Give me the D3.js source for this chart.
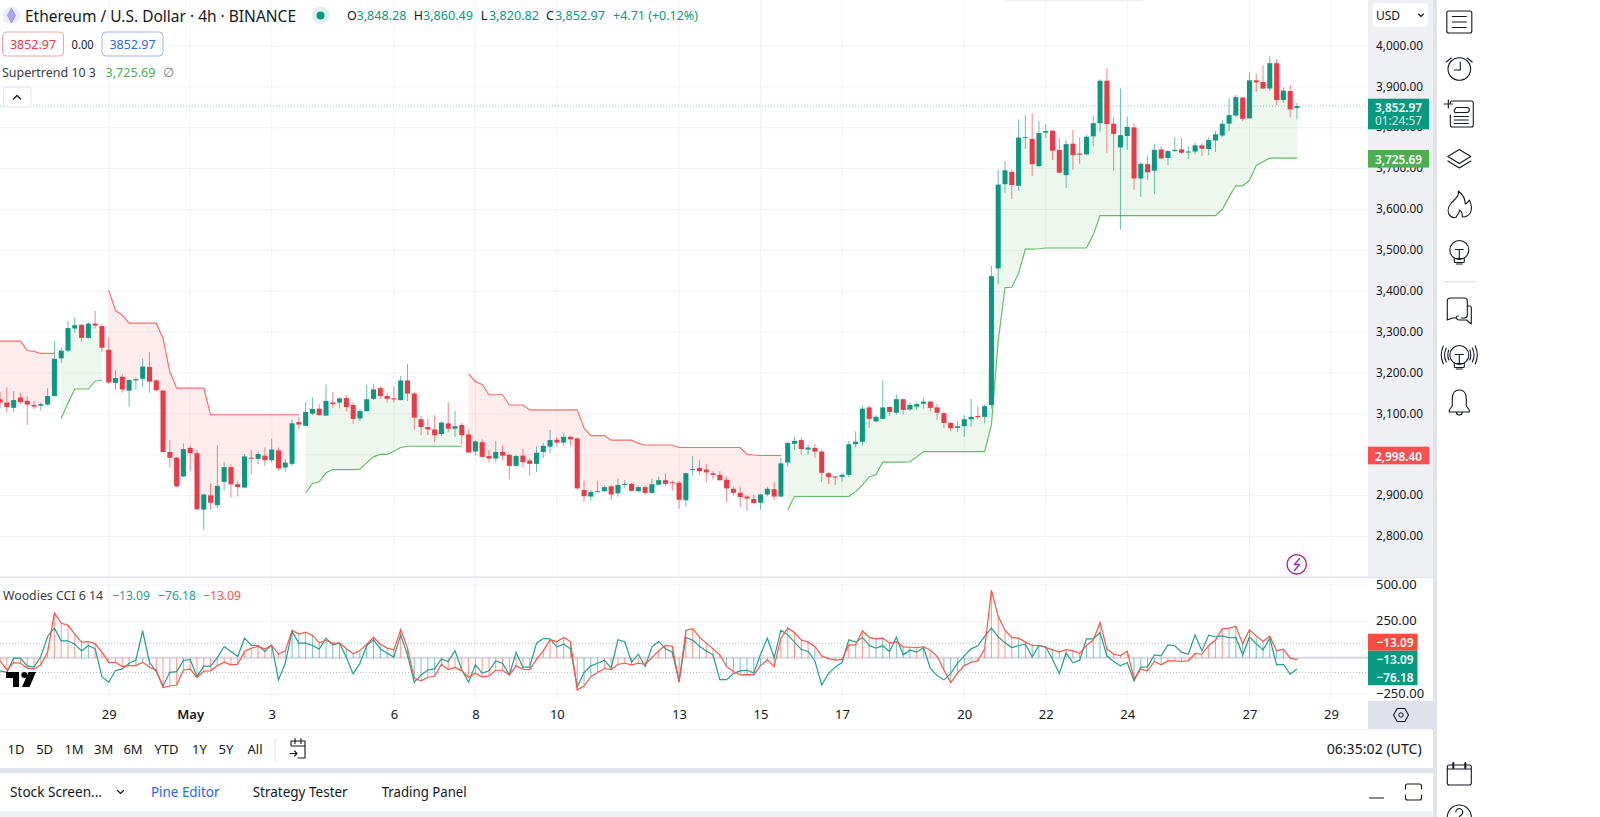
<!DOCTYPE html>
<html>
<head>
<meta charset="utf-8">
<title>ETHUSD</title>
<script src="https://cdn.jsdelivr.net/npm/d3@7/dist/d3.min.js"></script>
<style>
html,body{margin:0;padding:0;background:#fff;overflow:hidden}
svg{display:block}
text{font-family:"Noto Sans","Open Sans",sans-serif}
</style>
</head>
<body>
<script>
// ---- data ----
const firstBar = -28; // bars counted from 1 May 00:00, one bar = 4h
const opens = [
3136,3128,3115,3140,3132,3122,3120,3123,3144,3236,
3255,3309,3318,3286,3321,3315,3257,3176,3191,3157,
3182,3186,3215,3182,3157,3007,2993,2947,3017,3004,
2866,2901,2877,2934,2970,2928,2920,2993,2990,2998,
2987,3011,2969,2978,3080,3071,3101,3113,3096,3128,
3128,3139,3122,3089,3107,3137,3163,3144,3138,3134,
3182,3150,3087,3068,3062,3051,3077,3064,3073,3050,
3008,3031,2997,2991,3007,3000,2973,2998,2986,2978,
3007,3020,3037,3030,3044,3040,2914,2898,2909,2911,
2923,2906,2927,2929,2911,2921,2907,2927,2938,2933,
2932,2889,2963,2968,2964,2955,2951,2939,2917,2907,
2898,2892,2883,2903,2916,2898,2981,3027,3036,3013,
3017,3008,2955,2947,2946,2951,3026,3032,3116,3082,
3088,3117,3103,3136,3111,3118,3125,3130,3116,3102,
3078,3066,3070,3087,3095,3093,3122,3456,3662,3692,
3658,3775,3773,3706,3788,3793,3746,3684,3761,3737,
3735,3779,3811,3915,3810,3752,3780,3801,3676,3711,
3695,3747,3726,3743,3747,3741,3742,3757,3748,3769,
3781,3810,3830,3874,3823,3916,3912,3896,3958,3868,
3890,3848.28];
const highs = [
3154,3165,3156,3152,3144,3132,3128,3163,3279,3262,
3327,3336,3320,3324,3352,3320,3287,3207,3197,3185,
3189,3235,3252,3185,3160,3036,2995,3028,3022,3012,
2905,2930,3023,2982,2977,2937,3002,3012,3008,3018,
3039,3018,2990,3087,3092,3129,3141,3124,3172,3154,
3141,3146,3128,3112,3171,3174,3168,3150,3168,3193,
3222,3155,3095,3089,3097,3081,3129,3107,3078,3062,
3036,3038,3012,3034,3023,3002,3000,3014,2991,3020,
3028,3061,3044,3053,3047,3043,2937,2914,2937,2925,
2926,2942,2938,2932,2925,2925,2942,2947,2955,2937,
2935,2956,2997,2987,2978,2960,2960,2947,2922,2923,
2902,2902,2903,2922,2933,2993,3031,3044,3043,3026,
3027,3012,2958,2949,2956,3034,3058,3120,3121,3097,
3181,3119,3147,3137,3128,3128,3138,3132,3124,3106,
3081,3083,3097,3137,3118,3123,3462,3697,3718,3698,
3820,3831,3835,3817,3809,3794,3774,3770,3795,3777,
3782,3830,3919,3946,3826,3896,3827,3811,3715,3732,
3761,3755,3746,3777,3776,3755,3764,3762,3777,3792,
3819,3872,3880,3874,3936,3932,3952,3975,3968,3899,
3905,3860.49];
const lows = [
3114,3104,3104,3124,3073,3112,3108,3120,3142,3224,
3251,3299,3277,3284,3309,3252,3173,3159,3152,3118,
3159,3167,3152,3156,3005,2969,2921,2945,2960,2866,
2817,2866,2869,2913,2896,2898,2919,2952,2977,2973,
2981,2961,2959,2973,3063,3069,3097,3096,3095,3114,
3114,3106,3076,3083,3105,3134,3137,3128,3128,3133,
3132,3061,3048,3048,3031,3047,3055,3044,3026,3004,
2998,2993,2981,2983,2987,2940,2971,2969,2949,2958,
2992,3004,3020,3022,3022,2914,2885,2888,2908,2910,
2889,2898,2919,2910,2909,2902,2904,2926,2924,2913,
2868,2873,2949,2951,2932,2940,2937,2885,2900,2872,
2863,2881,2865,2898,2889,2897,2971,3013,3000,3001,
2993,2934,2929,2926,2934,2945,3018,3022,3066,3080,
3087,3095,3099,3099,3108,3110,3113,3107,3085,3066,
3058,3057,3044,3069,3088,3077,3113,3417,3641,3626,
3646,3749,3682,3705,3775,3721,3689,3653,3697,3711,
3733,3755,3790,3739,3695,3551,3746,3648,3631,3672,
3639,3723,3709,3741,3736,3723,3735,3731,3733,3741,
3777,3791,3827,3816,3822,3888,3894,3891,3856,3860,
3825,3820.82];
const closes = [
3128,3117,3134,3129,3123,3118,3124,3144,3235,3255,
3310,3317,3286,3321,3316,3262,3177,3188,3160,3183,
3185,3216,3179,3158,3007,2993,2923,3014,3004,2867,
2903,2883,2924,2970,2928,2921,2996,2991,3002,2987,
3013,2967,2981,3077,3074,3105,3112,3097,3132,3124,
3138,3117,3088,3107,3136,3160,3144,3137,3136,3182,
3150,3091,3068,3062,3048,3079,3064,3070,3048,3006,
3033,2995,2991,3007,2998,2973,2997,2982,2978,3005,
3022,3036,3030,3044,3038,2918,2899,2909,2911,2921,
2903,2926,2929,2912,2921,2907,2928,2938,2929,2931,
2890,2955,2965,2960,2957,2951,2938,2918,2907,2897,
2893,2882,2903,2917,2898,2979,3029,3034,3014,3018,
3008,2956,2946,2946,2951,3026,3032,3113,3088,3093,
3116,3105,3136,3110,3122,3124,3130,3115,3103,3078,
3065,3070,3087,3093,3092,3119,3437,3661,3696,3660,
3776,3777,3711,3787,3792,3744,3690,3760,3733,3734,
3778,3811,3915,3809,3785,3782,3802,3676,3712,3691,
3746,3725,3743,3746,3739,3742,3757,3749,3770,3784,
3810,3831,3875,3822,3916,3911,3896,3958,3868,3891,
3845,3852.97];
const supertrend = [
3278,3278,3278,3278,3255,3253,3248,3248,3248,3089,
3126,3161,3161,3161,3180,3183,3403,3353,3342,3322,
3322,3322,3322,3322,3285,3203,3163,3163,3163,3163,
3163,3098,3098,3098,3098,3098,3098,3098,3098,3098,
3098,3098,3098,3098,3098,2906,2930,2934,2956,2964,
2964,2964,2964,2965,2981,2995,3001,3001,3009,3018,
3021,3021,3021,3021,3021,3021,3021,3021,3021,3198,
3179,3172,3147,3147,3147,3122,3122,3122,3110,3110,
3110,3110,3110,3110,3110,3110,3065,3047,3047,3047,
3036,3036,3036,3036,3028,3024,3024,3024,3024,3024,
3018,3018,3018,3018,3018,3018,3018,3018,3018,3018,
3001,2999.5,2998.4,2998.4,2998.4,2998.4,2865,2898,2898,2898,
2898,2898,2898,2898,2898,2898,2910,2926,2946,2952,
2982,2982,2982,2982,2983,2995,3008,3008,3008,3008,
3008,3008,3008,3008,3008,3008,3073,3278,3409,3410,
3444,3503,3503,3504,3506,3506,3506,3506,3506,3506,
3506,3538,3585,3585,3585,3585,3585,3585,3585,3585,
3585,3585,3585,3585,3585,3585,3585,3585,3585,3585,
3600,3631,3658,3658,3671,3708,3717,3725.69,3725.69,3725.69,
3725.69,3725.69];
const supertrendBearRuns = [[-28,-20],[-12,16],[41,87]];
const supertrendBullRuns = [[-19,-13],[17,40],[88,163]];
const cciSlow = [
-21,-83,-32,-37,-71,-76,-48,39,307,239,
223,163,108,112,96,39,-32,-30,-60,-53,
-53,-30,-64,-83,-204,-193,-186,-83,-78,-135,
-92,-89,-53,-30,-48,-44,44,67,78,62,
85,28,48,188,163,177,154,105,119,101,
101,62,28,50,94,140,94,67,55,195,
67,-140,-158,-133,-126,-44,-80,-66,-89,-135,
-105,-131,-124,-85,-85,-117,-55,-78,-80,-11,
48,124,112,140,112,-220,-193,-129,-101,-73,
-80,-44,-37,-48,-37,-44,2,50,85,80,
-167,190,200,142,101,62,21,-60,-94,-117,
-115,-117,-53,-14,-60,135,204,174,122,108,
78,14,-5,-16,-11,89,89,186,140,131,
135,101,112,76,73,71,76,53,11,-83,
-170,-105,-53,-30,-21,62,463,284,190,140,
135,108,85,85,71,55,39,57,48,30,
85,122,243,62,25,16,46,-145,-78,-89,
-25,-48,-21,-21,-25,-21,30,25,85,122,
200,204,216,96,193,151,112,149,48,60,
-2,-13.09];
const cciFast = [
-89,-99,-2,-2,-55,-64,9,147,204,117,
117,94,48,85,62,-129,-167,-87,-76,-37,
-16,186,-30,-94,-193,-99,-94,-18,-11,-129,
-57,-57,2,78,44,9,135,85,85,44,
89,-151,-37,181,101,101,85,60,135,89,
101,2,-110,-37,85,124,62,32,5,158,
21,-167,-117,-83,-76,-7,-25,50,-83,-167,
-48,-105,-89,-21,-37,-117,37,-64,-64,101,
133,131,76,94,62,-197,-101,-55,-37,-16,
-71,124,110,-30,25,-60,76,112,62,39,
-163,140,122,80,48,21,-149,-149,-108,-89,
-85,-103,25,135,2,190,158,108,57,44,
-21,-186,-108,-62,-32,124,108,140,85,67,
83,44,142,21,53,39,71,-71,-122,-151,
-108,-37,14,62,83,147,204,145,103,71,
83,94,7,85,76,-9,-108,34,-34,-16,
131,131,174,14,-25,-55,-32,-158,-64,-62,
21,14,89,83,39,25,158,48,156,145,
151,138,140,21,142,96,55,135,-48,-44,
-112,-76.18];
const cciTealBarRuns = [[-16,-15],[-9,-7],[15,30],[33,36],[58,60],[72,72],[79,86],[92,92],[101,106],[111,116],[122,135],[139,143],[153,163]];
const priceTicks = [4000,3900,3800,3700,3600,3500,3400,3300,3200,3100,3000,2900,2800];
const cciTicks = [500,250,-250];
const dateTickBars = [-12,0,12,30,42,54,72,84,96,114,126,138,156,168];
const dateTickLabels = ["29","May","3","6","8","10","13","15","17","20","22","24","27","29"];
const rangeLabels = ["1D","5D","1M","3M","6M","YTD","1Y","5Y","All"];

// ---- setup ----
const C = {up:"#089981",down:"#f23645",grid:"#f2f3f6",ink:"#131722",sep:"#e0e3eb",axis:"#eff0f4",
  stUp:"#4caf50",stDown:"#ff5252",cciRed:"#ff5347",cciTeal:"#1f9f91"};
const W=1600,H=817,paneR=1368,axisR=1433;
const svg=d3.select("body").append("svg").attr("width",W).attr("height",H).attr("viewBox",`0 0 ${W} ${H}`);
const x=d3.scaleLinear().domain([0,12]).range([190.2,271.68]);
const y=d3.scaleLinear().domain([2800,4000]).range([536.6,46]);
const yC=d3.scaleLinear().domain([-250,500]).range([694.3,585]);
const bars=opens.map((_,k)=>k+firstBar);
const inRuns=(b,runs)=>runs.some(r=>b>=r[0]&&b<=r[1]);

function T(px,py,str,o={}){
  const t=svg.append("text").attr("x",px).attr("y",py).text(str)
    .attr("font-size",o.size||13).attr("fill",o.fill||C.ink)
    .attr("text-anchor",o.anchor||"start").attr("dominant-baseline","central");
  if(o.weight)t.attr("font-weight",o.weight);
  if(o.opacity)t.attr("opacity",o.opacity);
  if(o.fit)t.attr("textLength",o.fit).attr("lengthAdjust","spacingAndGlyphs");
  return t;
}
function R(px,py,w,h,fill,o={}){
  return svg.append("rect").attr("x",px).attr("y",py).attr("width",w).attr("height",h).attr("fill",fill)
    .attr("rx",o.rx||0).attr("stroke",o.stroke||"none").attr("stroke-width",o.sw||1);
}
function P(d,o={}){
  return svg.append("path").attr("d",d).attr("fill",o.fill||"none").attr("stroke",o.stroke===undefined?C.ink:o.stroke)
    .attr("stroke-width",o.sw||1.1).attr("stroke-linecap","round").attr("stroke-linejoin","round");
}

// ---- grid ----
const grid=svg.append("g");
grid.selectAll(".h").data(priceTicks).join("line").attr("x1",0).attr("x2",paneR).attr("y1",d=>y(d)).attr("y2",d=>y(d)).attr("stroke",C.grid);
grid.selectAll(".v").data(dateTickBars).join("line").attr("x1",d=>x(d)).attr("x2",d=>x(d)).attr("y1",0).attr("y2",700).attr("stroke",C.grid);
grid.selectAll(".c").data(cciTicks).join("line").attr("x1",0).attr("x2",paneR).attr("y1",d=>yC(d)).attr("y2",d=>yC(d)).attr("stroke",C.grid);

// ---- supertrend ----
function stLayer(runs,col){
  runs.forEach(r=>{
    const idx=bars.filter(b=>b>=r[0]&&b<=r[1]);
    const val=b=>supertrend[b-firstBar], mid=b=>(opens[b-firstBar]+closes[b-firstBar])/2;
    svg.append("path").attr("fill",col).attr("fill-opacity",.1)
      .attr("d",d3.area().x(b=>x(b)).y0(b=>y(val(b))).y1(b=>y(mid(b)))(idx));
    svg.append("path").attr("fill","none").attr("stroke",col).attr("stroke-width",1.15).attr("stroke-opacity",.85)
      .attr("d",d3.line().x(b=>x(b)).y(b=>y(val(b)))(idx));
  });
}
stLayer(supertrendBearRuns,C.stDown);
stLayer(supertrendBullRuns,C.stUp);

// ---- candles ----
const col=b=>closes[b-firstBar]>=opens[b-firstBar]?C.up:C.down;
const candles=svg.append("g");
candles.selectAll("line").data(bars).join("line")
  .attr("x1",x).attr("x2",x)
  .attr("y1",b=>y(highs[b-firstBar])).attr("y2",b=>y(lows[b-firstBar]))
  .attr("stroke",col).attr("stroke-width",1).attr("stroke-opacity",.62);
const bodyW=(x(1)-x(0))*0.74;
candles.selectAll("rect").data(bars).join("rect")
  .attr("x",b=>x(b)-bodyW/2).attr("width",bodyW)
  .attr("y",b=>y(Math.max(opens[b-firstBar],closes[b-firstBar])))
  .attr("height",b=>Math.max(1,Math.abs(y(opens[b-firstBar])-y(closes[b-firstBar]))))
  .attr("fill",col);

// last price line
svg.append("line").attr("x1",0).attr("x2",paneR).attr("y1",y(3852.97)).attr("y2",y(3852.97))
  .attr("stroke",C.up).attr("stroke-opacity",.45).attr("stroke-dasharray","1 2");

// ---- CCI pane ----
svg.append("line").attr("x1",0).attr("x2",paneR).attr("y1",yC(0)).attr("y2",yC(0)).attr("stroke","#d6d8de").attr("stroke-width",2);
[100,-100].forEach(v=>svg.append("line").attr("x1",0).attr("x2",paneR).attr("y1",yC(v)).attr("y2",yC(v))
  .attr("stroke","#b8bbc4").attr("stroke-dasharray","1 2"));
svg.append("g").selectAll("line").data(bars).join("line")
  .attr("x1",x).attr("x2",x).attr("y1",yC(0)).attr("y2",b=>yC(cciSlow[b-firstBar]))
  .attr("stroke",b=>inRuns(b,cciTealBarRuns)?C.cciTeal:C.cciRed).attr("stroke-width",1).attr("stroke-opacity",.6);
const cciLine=arr=>d3.line().x(b=>x(b)).y(b=>yC(arr[b-firstBar]));
svg.append("path").attr("fill","none").attr("stroke",C.cciTeal).attr("stroke-width",1.2).attr("d",cciLine(cciFast)(bars));
svg.append("path").attr("fill","none").attr("stroke",C.cciRed).attr("stroke-width",1.2).attr("d",cciLine(cciSlow)(bars));
// pane separators
R(0,576.5,axisR,1.5,C.sep);

// logo
P("M6 672H19V687H13V678H6Z",{fill:"#000",stroke:"none"});
svg.append("circle").attr("cx",24.3).attr("cy",675).attr("r",3).attr("fill","#000");
P("M28.5 672H36L29.5 687H22Z",{fill:"#000",stroke:"none"});

// ---- axes panels ----
R(paneR,0,axisR-paneR,576.5,C.axis);
R(paneR,578,axisR-paneR,123,"#ffffff");
R(paneR,701,axisR-paneR,28,"#dfe2ea");
R(0,700,paneR,30,"#ffffff");
R(axisR,0,4,H,C.sep);

// price axis (d3 axis)
const priceAxis=svg.append("g").attr("transform",`translate(${paneR},-1)`)
  .call(d3.axisRight(y).tickValues(priceTicks).tickSize(0).tickPadding(8).tickFormat(d3.format(",.2f")));
priceAxis.select(".domain").remove();
priceAxis.selectAll("text").attr("font-size",13).attr("fill",C.ink).attr("font-family",'"Noto Sans"').attr("textLength",47).attr("lengthAdjust","spacingAndGlyphs");
// cci axis
const cciAxis=svg.append("g").attr("transform",`translate(${paneR},-1)`)
  .call(d3.axisRight(yC).tickValues(cciTicks).tickSize(0).tickPadding(8).tickFormat(d=>d3.format(".2f")(d).replace("-","\u2212")));
cciAxis.select(".domain").remove();
cciAxis.selectAll("text").attr("font-size",13).attr("fill",C.ink).attr("font-family",'"Noto Sans"');
// time axis
const timeAxis=svg.append("g").attr("transform","translate(0,709.5)")
  .call(d3.axisBottom(x).tickValues(dateTickBars).tickSize(0).tickPadding(0).tickFormat((d,i)=>dateTickLabels[i]));
timeAxis.select(".domain").remove();
timeAxis.selectAll("text").attr("font-size",13).attr("fill",C.ink).attr("font-family",'"Noto Sans"')
  .attr("font-weight",(d,i)=>dateTickLabels[i]==="May"?600:400);

// price tags
function tag(py,h,fill,str,w=61,fit=47,cx=paneR+30.5){R(paneR,py-h/2,w,h,fill);T(cx,py,str,{fill:"#fff",anchor:"middle",weight:600,size:13,fit:fit});}
R(paneR,98.7,61,30.6,C.up);
T(paneR+30.5,106.5,"3,852.97",{fill:"#fff",anchor:"middle",weight:600,fit:47});
T(paneR+30.5,120,"01:24:57",{fill:"#fff",anchor:"middle",opacity:.8,fit:47});
tag(158.8,17.6,C.stUp,"3,725.69");
tag(455.5,17.6,"#ff4d50","2,998.40");
tag(642.2,17,"#ff4a3d","\u221213.09",49.5,37,1395);
tag(659.4,17.4,C.up,"\u221213.09",49.5,37,1395);
tag(676.6,17.2,C.up,"\u221276.18",49.5,37,1395);

// USD box
R(1372.7,3.3,55.3,23.4,"#fff",{rx:3});
T(1376,15,"USD",{size:12});
P("M1418.5 14l2.5 2.5 2.5-2.5");

// gear at axis corner
P("M1393.5 715l3.7-6.5h7.6l3.7 6.5-3.7 6.5h-7.6z");
svg.append("circle").attr("cx",1401).attr("cy",715).attr("r",2.2).attr("fill","none").attr("stroke",C.ink);

// ---- header ----
svg.append("circle").attr("cx",11.5).attr("cy",15.5).attr("r",9).attr("fill","#eeeefb");
P("M11.5 8.5l4 7-4 7.5-4-7.5z",{fill:"#a9a5ef",stroke:"#7e79e4",sw:.6});
T(25,15.5,"Ethereum / U.S. Dollar · 4h · BINANCE",{size:16,fit:271});
svg.append("circle").attr("cx",320.5).attr("cy",15.5).attr("r",9).attr("fill",C.up).attr("fill-opacity",.13);
svg.append("circle").attr("cx",320.5).attr("cy",15.5).attr("r",4).attr("fill",C.up);
const ohlc=[[347,"O",356.5,"3,848.28"],[413.7,"H",423,"3,860.49"],[480.7,"L",489,"3,820.82"],[546,"C",555,"3,852.97"]];
ohlc.forEach(d=>{T(d[0],15.5,d[1],{size:12.5});T(d[2],15.5,d[3],{size:12.5,fill:C.up,fit:50});});
T(613,15.5,"+4.71 (+0.12%)",{size:12.5,fill:C.up,fit:85});
R(2.5,32,61,24,"#fff",{rx:4,stroke:"#f7a0a8"});
T(33,44,"3852.97",{anchor:"middle",fill:C.down,size:13,fit:46});
T(82.6,44,"0.00",{anchor:"middle",size:12,fit:22});
R(102,32,61,24,"#fff",{rx:4,stroke:"#9db4f5"});
T(132.5,44,"3852.97",{anchor:"middle",fill:"#2962ff",size:13,fit:46});
T(2,72,"Supertrend 10 3",{size:12.5,fill:"#363a45",fit:94});
T(105.5,72,"3,725.69",{size:12.5,fill:C.stUp,fit:50});
T(163,72,"\u2205",{size:12.5,fill:"#787b86"});
R(3.5,87,27.5,20,"#fff",{rx:3,stroke:C.sep});
P("M13.5 99l3.5-3.5 3.5 3.5",{sw:1.4});
// cci legend
T(3,595,"Woodies CCI 6 14",{size:12.5,fill:"#363a45",fit:100});
T(112,595,"\u221213.09",{size:12.5,fill:C.cciTeal,fit:38});
T(158,595,"\u221276.18",{size:12.5,fill:C.cciTeal,fit:38});
T(203,595,"\u221213.09",{size:12.5,fill:C.cciRed,fit:38});

// lightning badge
svg.append("circle").attr("cx",1296.7).attr("cy",564.3).attr("r",9.7).attr("fill","#fff").attr("stroke","#9c27b0").attr("stroke-width",1.4);
P("M1299.5 558.5l-5 6h5l-5 6",{stroke:"#9c27b0",sw:1.3});

// ---- bottom bars ----
R(0,729,axisR,1,"#f0f3fa");
R(0,768,axisR,5,C.sep);
R(0,811,axisR,6,"#f0f1f5");
const rangeX=[16,44.6,74,103.6,133,166.5,199.5,226,255];
rangeLabels.forEach((s,i)=>T(rangeX[i],749,s,{anchor:"middle",size:13}));
R(274.5,738,1,24,C.sep);
P("M291 745V741H305V758H298M295 738.5v5M301 738.5v5M291 746H305M290 753.5h7M294.5 751l2.5 2.5-2.5 2.5");
T(1421.7,749,"06:35:02 (UTC)",{anchor:"end",size:13.5,fit:95});
T(10,792,"Stock Screen...",{size:13.5,fit:92});
P("M117.5 790.5l3 3 3-3");
T(151,792,"Pine Editor",{size:13.5,fill:"#2962ff",fit:68.5});
T(252.7,792,"Strategy Tester",{size:13.5,fit:95});
T(381.7,792,"Trading Panel",{size:13.5,fit:85});
P("M1369.5 798h14");
P("M1405.5 789v-3a2 2 0 0 1 2-2h12a2 2 0 0 1 2 2v3M1405.5 795v3a2 2 0 0 0 2 2h12a2 2 0 0 0 2-2v-3");

// top sliver
R(1005,0,138,1.5,"#f0f1f5");

// ---- right toolbar ----
const ic=1459.3;
P(`M${ic-12.5} 13a2 2 0 0 1 2-2h21a2 2 0 0 1 2 2v18a2 2 0 0 1-2 2h-21a2 2 0 0 1-2-2zM${ic-7} 16.5h14M${ic-7} 22h14M${ic-7} 27.5h14`);
svg.append("circle").attr("cx",ic).attr("cy",69).attr("r",11.3).attr("fill","none").attr("stroke",C.ink).attr("stroke-width",1.1);
P(`M${ic+1} 62v8h-6M${ic-13} 62l5-4M${ic+13} 62l-5-4`);
P(`M${ic-9} 103a2 2 0 0 1 2-2h19a2 2 0 0 1 2 2v22a2 2 0 0 1-2 2h-19a2 2 0 0 1-2-2v-10M${ic-15} 104h8M${ic-11} 100v8M${ic-4} 109a1.5 1.5 0 0 1 1.5-1.5h10a1.5 1.5 0 0 1 0 5h-10a1.5 1.5 0 0 1-1.5-3.5M${ic-5} 116.5h14M${ic-5} 120h14M${ic-5} 123.5h14`);
P(`M${ic} 149.5l11.5 7-11.5 7-11.5-7zM${ic-11.5} 161l11.5 7 11.5-7`);
P(`M${ic-1} 191c1 5-3 8-7 12-4 5-4 10-1 13 2 2 4 2 6 1 1-3 4-4 3-7 3 1 3 4 3 7 3 0 6-1 8-4 2-4 1-9-1-13-1 2-2 3-4 4 0-5-3-10-7-13z`);
svg.append("circle").attr("cx",ic).attr("cy",250).attr("r",9.5).attr("fill","none").attr("stroke",C.ink).attr("stroke-width",1.1);
P(`M${ic-4} 249.5h8M${ic} 249.5v9M${ic-5} 258.5h10v3a1 1 0 0 1-1 1h-8a1 1 0 0 1-1-1zM${ic-3} 264h6`);
R(1443,281,33,1.3,C.sep);
P(`M${ic-12} 320v-19a3 3 0 0 1 3-3h14a3 3 0 0 1 3 3v14a3 3 0 0 1-3 3h-3M${ic-12} 320l5-2h4M${ic-3} 318a2 2 0 0 1 2-2`);
P(`M${ic+8} 306h2a2 2 0 0 1 2 2v16l-5-4h-7a3 3 0 0 1-3-2`);
svg.append("circle").attr("cx",ic).attr("cy",355).attr("r",9.5).attr("fill","none").attr("stroke",C.ink).attr("stroke-width",1.1);
P(`M${ic-4} 354.5h8M${ic} 354.5v9M${ic-5} 363.5h10v3a1 1 0 0 1-1 1h-8a1 1 0 0 1-1-1zM${ic-3} 369h6`);
P(`M${ic-13} 348q-3.5 7 0 14M${ic-10.5} 350q-2 5 0 10M${ic-16} 346q-4 9 0 18M${ic+13} 348q3.5 7 0 14M${ic+10.5} 350q2 5 0 10M${ic+16} 346q4 9 0 18`);
P(`M${ic} 390c-5 0-7 4-7 9v7l-3 4v2h20v-2l-3-4v-7c0-5-2-9-7-9zM${ic-10} 412h20M${ic-3} 412a3 3 0 0 0 6 0`);
P(`M${ic-12} 767a2 2 0 0 1 2-2h20a2 2 0 0 1 2 2v16a2 2 0 0 1-2 2h-20a2 2 0 0 1-2-2zM${ic-12} 769h24`);
P(`M${ic-6} 763v5M${ic+6} 763v5`,{sw:2});
svg.append("circle").attr("cx",ic).attr("cy",817).attr("r",12).attr("fill","none").attr("stroke",C.ink).attr("stroke-width",1.1);
P(`M${ic-3.5} 812a3.5 3.5 0 1 1 5.5 3c-1.5 1-2 1.5-2 2`);
</script>
</body>
</html>
